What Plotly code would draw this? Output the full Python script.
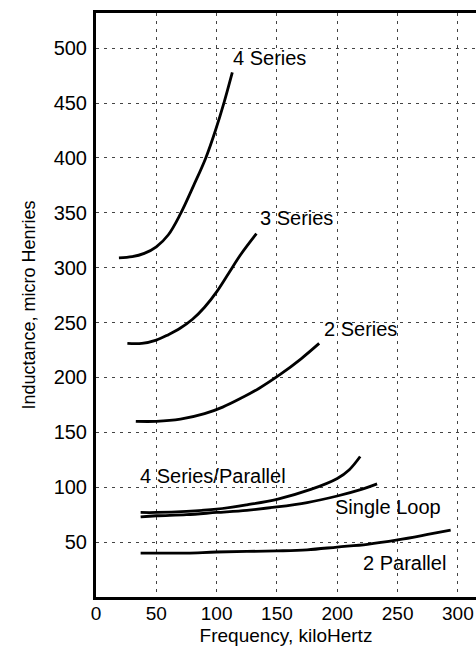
import plotly.graph_objects as go

# Data (frequency kHz, inductance uH)
s4_x = [19, 30, 40, 50, 60, 70, 81, 91, 99, 106, 113]
s4_y = [309, 310, 313, 319, 330, 349, 375, 400, 425, 450, 478]

s3_x = [26, 38, 50, 60, 70, 80, 90, 100, 110, 120, 133]
s3_y = [231, 231, 234, 239, 245, 253, 264, 278, 295, 312, 331]

s2_x = [33, 50, 70, 90, 105, 120, 135, 153, 170, 185]
s2_y = [160, 160, 162, 167, 173, 181, 190, 203, 217, 231]

sp_x = [37, 50, 75, 100, 125, 150, 178, 200, 210, 219]
sp_y = [77, 77, 78, 80, 84, 89, 98, 108, 116, 128]

sl_x = [37, 50, 75, 100, 125, 150, 175, 200, 220, 233]
sl_y = [73, 74, 75, 77, 79, 82, 86, 92, 98, 103]

p2_x = [37, 75, 100, 150, 175, 200, 225, 250, 275, 294]
p2_y = [40, 40, 41, 42, 43, 45.5, 48, 52, 57, 61]

labels = ["4 Series", "3 Series", "2 Series", "4 Series/Parallel", "Single Loop", "2 Parallel"]
label_x = [114, 137, 190, 37, 199, 222]
label_y = [491, 345, 244, 110, 82, 31]

x_ticks = [0, 50, 100, 150, 200, 250, 300]
y_ticks = [50, 100, 150, 200, 250, 300, 350, 400, 450, 500]

FONT = "Liberation Sans, Arial, sans-serif"

fig = go.Figure()
for xs, ys in [(s4_x, s4_y), (s3_x, s3_y), (s2_x, s2_y), (sp_x, sp_y), (sl_x, sl_y), (p2_x, p2_y)]:
    fig.add_trace(go.Scatter(x=xs, y=ys, mode="lines",
                             line=dict(color="black", width=2.8, shape="spline", smoothing=1.0),
                             showlegend=False, hoverinfo="skip"))

for t, lx, ly in zip(labels, label_x, label_y):
    fig.add_annotation(x=lx, y=ly, text=t, showarrow=False, xanchor="left", yanchor="middle",
                       font=dict(family=FONT, size=20, color="black"), xshift=-3)

fig.update_layout(
    width=476, height=646,
    margin=dict(l=96, r=0, t=13, b=49),
    paper_bgcolor="white", plot_bgcolor="white",
    font=dict(family=FONT, color="black"),
)
fig.update_xaxes(
    range=[0, 315], tickvals=x_ticks, ticktext=[str(v) for v in x_ticks],
    showline=True, linecolor="black", linewidth=3, mirror=True,
    showgrid=True, gridcolor="#444", gridwidth=1, griddash="3px,5px",
    zeroline=False, ticks="", tickfont=dict(size=19, family=FONT), ticklabelstandoff=-3,
    title=dict(text="Frequency, kiloHertz", font=dict(size=19, family=FONT), standoff=6),
)
fig.update_yaxes(
    range=[0, 532], tickvals=y_ticks, ticktext=[str(v) for v in y_ticks],
    showline=True, linecolor="black", linewidth=3, mirror=False,
    showgrid=True, gridcolor="#444", gridwidth=1, griddash="3px,5px",
    zeroline=False, ticks="", tickfont=dict(size=20, family=FONT), ticklabelstandoff=2,
    title=dict(text="Inductance, micro Henries", font=dict(size=18, family=FONT), standoff=14),
)

fig.write_html("out.html")
